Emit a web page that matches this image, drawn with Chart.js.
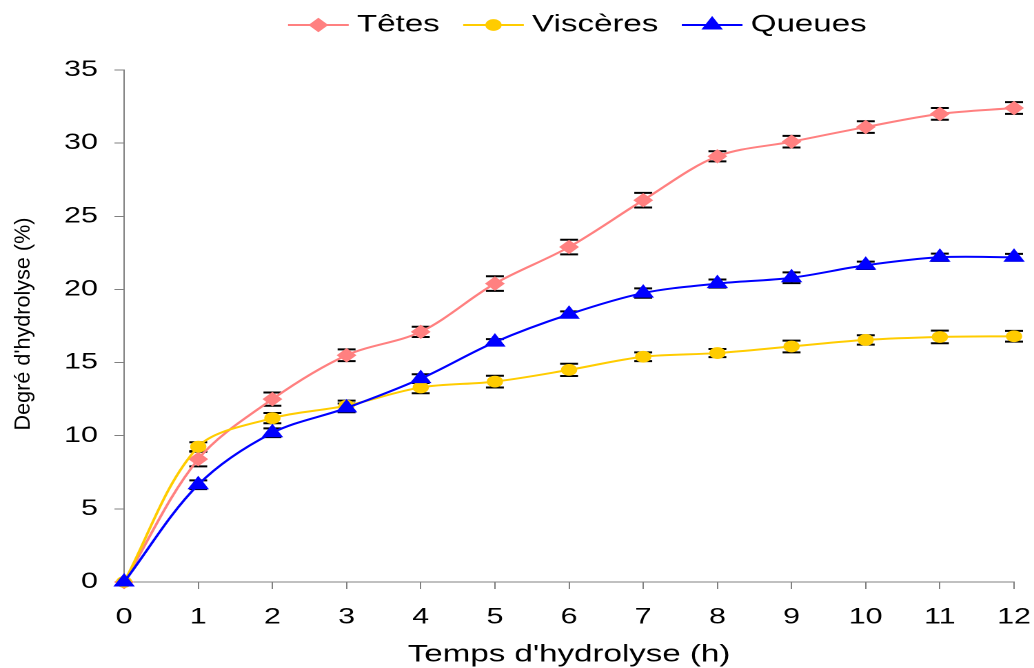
<!DOCTYPE html>
<html>
<head>
<meta charset="utf-8">
<title>Degré d'hydrolyse</title>
<script src="https://cdn.jsdelivr.net/npm/chart.js@4.4.1/dist/chart.umd.min.js"></script>
<style>
    html, body { margin: 0; padding: 0; background: #fff; overflow: hidden; }
    /* the figure is drawn narrow and widened, like the original export */
    #wrap { width: 750px; height: 668px; transform: scaleX(1.3787); transform-origin: 0 0; }
</style>
</head>
<body>
<div id="wrap"><canvas id="myChart"></canvas></div>
<script>
var hours = [0, 1, 2, 3, 4, 5, 6, 7, 8, 9, 10, 11, 12];

var tetes     = [0, 8.4, 12.5, 15.5, 17.1, 20.4, 22.9, 26.1, 29.1, 30.1, 31.1, 32.0, 32.4];
var visceres  = [0, 9.25, 11.2, 12.05, 13.3, 13.7, 14.5, 15.4, 15.65, 16.1, 16.55, 16.75, 16.8];
var queues    = [0, 6.65, 10.2, 11.9, 13.9, 16.4, 18.3, 19.75, 20.4, 20.8, 21.65, 22.2, 22.2];

// ecart-type
var tetesErr    = [0, 0.5, 0.45, 0.4, 0.35, 0.5, 0.5, 0.5, 0.35, 0.4, 0.4, 0.4, 0.4];
var visceresErr = [0, 0.3, 0.35, 0.35, 0.4, 0.4, 0.42, 0.3, 0.28, 0.4, 0.32, 0.43, 0.37];
var queuesErr   = [0, 0.3, 0.3, 0.3, 0.3, 0.2, 0.2, 0.32, 0.28, 0.37, 0.25, 0.25, 0.23];

var yTicks = [0, 5, 10, 15, 20, 25, 30, 35];
var xTitle = "Temps d'hydrolyse (h)";
var yTitle = "Degré d'hydrolyse (%)";

Chart.defaults.font.family = '"Liberation Sans", Arial, sans-serif';
Chart.defaults.color = '#000';

var legendLine = 44;
var legendExtra = 6;

// error bars under the curves
var errorBars = {
    id: 'errorBars',
    beforeDatasetsDraw: function(chart) {
        var ctx = chart.ctx;
        var y = chart.scales.y;
        ctx.save();
        ctx.strokeStyle = '#000';
        chart.data.datasets.forEach(function(ds, i) {
            var meta = chart.getDatasetMeta(i);
            meta.data.forEach(function(pt, j) {
                var e = ds.errors[j];
                if (!e) return;
                var top = y.getPixelForValue(ds.data[j] + e);
                var bot = y.getPixelForValue(ds.data[j] - e);
                ctx.lineWidth = 1.5;
                ctx.beginPath();
                ctx.moveTo(pt.x, top);
                ctx.lineTo(pt.x, bot);
                ctx.stroke();
                ctx.lineWidth = 2;
                ctx.beginPath();
                ctx.moveTo(pt.x - 6.5, top);
                ctx.lineTo(pt.x + 6.5, top);
                ctx.moveTo(pt.x - 6.5, bot);
                ctx.lineTo(pt.x + 6.5, bot);
                ctx.stroke();
            });
        });
        ctx.restore();
    }
};

// legend: line with marker, centred over the plot, plus rotated y title
var extras = {
    id: 'extras',
    afterInit: function(chart) {
        var lg = chart.legend;
        var fit = lg.fit.bind(lg);
        lg.fit = function() { fit(); this.height += 19; };
    },
    afterLayout: function(chart) {
        var lg = chart.legend;
        var shift = (chart.chartArea.left + chart.chartArea.right) / 2 + 6 - (lg.left + lg.right) / 2;
        lg.left += shift;
        lg.right += shift;
        lg.top -= 4;
        lg.bottom -= 4;
    },
    afterDraw: function(chart) {
        var ctx = chart.ctx;
        var lg = chart.legend;
        ctx.save();
        lg.legendHitBoxes.forEach(function(box, i) {
            var item = lg.legendItems[i];
            var ds = chart.data.datasets[item.datasetIndex];
            var cy = box.top + 12;
            ctx.strokeStyle = ds.borderColor;
            ctx.lineWidth = 2;
            ctx.beginPath();
            ctx.moveTo(box.left, cy);
            ctx.lineTo(box.left + legendLine, cy);
            ctx.stroke();
            ctx.fillStyle = ds.backgroundColor;
            ctx.lineWidth = 1;
            Chart.helpers.drawPoint(ctx, {
                pointStyle: ds.pointStyle, radius: ds.pointRadius, rotation: 0, borderWidth: 1
            }, box.left + legendLine / 2, cy);
        });

        var area = chart.chartArea;
        ctx.fillStyle = '#000';
        ctx.font = '20px "Liberation Sans", Arial, sans-serif';
        ctx.textAlign = 'center';
        ctx.textBaseline = 'middle';
        ctx.translate(17, (area.top + area.bottom) / 2 - 2);
        ctx.rotate(-Math.PI / 2);
        var w = ctx.measureText(yTitle).width;
        ctx.scale(213 / w, 0.8);
        ctx.fillText(yTitle, 0, 0);
        ctx.restore();
    }
};

var ctx1 = document.getElementById('myChart').getContext('2d');
var myChart = new Chart(ctx1, {
    type: 'line',
    data: {
        labels: hours,
        datasets: [
            {
                label: 'Têtes',
                data: tetes,
                errors: tetesErr,
                borderColor: '#FF8080',
                backgroundColor: '#FF8080',
                pointStyle: 'rectRot',
                pointRadius: 6.5,
                order: 2
            },
            {
                label: 'Viscères',
                data: visceres,
                errors: visceresErr,
                borderColor: '#FFCC00',
                backgroundColor: '#FFCC00',
                pointStyle: 'circle',
                pointRadius: 5.4,
                order: 1
            },
            {
                label: 'Queues',
                data: queues,
                errors: queuesErr,
                borderColor: '#0000FF',
                backgroundColor: '#0000FF',
                pointStyle: 'triangle',
                pointRadius: 8,
                order: 0
            }
        ]
    },
    options: {
        responsive: true,
        maintainAspectRatio: false,
        animation: false,
        devicePixelRatio: 2,
        datasets: {
            line: {
                borderWidth: 2,
                pointBorderWidth: 1,
                tension: 0.33,
                clip: false
            }
        },
        layout: {
            padding: 0
        },
        plugins: {
            tooltip: { enabled: false },
            legend: {
                position: 'top',
                labels: {
                    color: '#000',
                    font: { size: 24 },
                    boxWidth: legendLine - legendExtra,
                    boxHeight: 24,
                    padding: 17,
                    sort: function(a, b) { return a.datasetIndex - b.datasetIndex; },
                    generateLabels: function(chart) {
                        return Chart.defaults.plugins.legend.labels.generateLabels(chart).map(function(it) {
                            it.fillStyle = 'rgba(0,0,0,0)';
                            it.strokeStyle = 'rgba(0,0,0,0)';
                            it.lineWidth = 0;
                            return it;
                        });
                    }
                }
            }
        },
        scales: {
            x: {
                type: 'linear',
                min: 0,
                max: 12,
                ticks: { stepSize: 1, color: '#000', font: { size: 22 }, padding: 15, maxRotation: 0 },
                grid: { drawOnChartArea: false, drawTicks: true, tickLength: 7, tickColor: '#808080' },
                border: { display: true, color: '#808080', width: 1 },
                title: {
                    display: true,
                    text: xTitle,
                    color: '#000',
                    font: { size: 24, lineHeight: 1 },
                    padding: { top: 0, bottom: 1 }
                },
                afterFit: function(scale) {
                    scale.height = 86;
                    scale.paddingRight = 14.5;
                }
            },
            y: {
                min: 0,
                max: 35,
                afterBuildTicks: function(scale) {
                    scale.ticks = yTicks.map(function(v) { return { value: v }; });
                },
                ticks: { color: '#000', font: { size: 22 }, padding: 12 },
                grid: { drawOnChartArea: false, drawTicks: true, tickLength: 7, tickColor: '#808080' },
                border: { display: true, color: '#808080', width: 1 },
                afterFit: function(scale) { scale.width = 90; }
            }
        }
    },
    plugins: [errorBars, extras]
});
</script>
</body>
</html>
